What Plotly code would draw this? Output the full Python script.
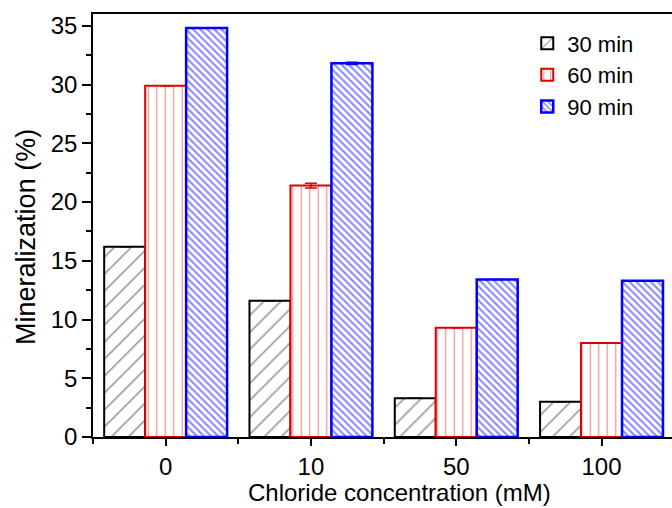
import plotly.graph_objects as go

categories = ["0", "10", "50", "100"]
series_names = ["30 min", "60 min", "90 min"]
vals_30 = [16.2, 11.6, 3.3, 3.0]
vals_60 = [29.9, 21.4, 9.3, 8.0]
vals_90 = [34.8, 31.8, 13.4, 13.3]
err_30 = [None, None, None, None]
err_60 = [None, 0.2, None, None]
err_90 = [None, 0.1, None, None]
y_ticks = [0, 5, 10, 15, 20, 25, 30, 35]
x_title = "Chloride concentration (mM)"
y_title = "Mineralization (%)"

xpos = list(range(len(categories)))
FONT = "Liberation Sans, Arial, sans-serif"

styles = [
    dict(line="#000000", fg="#222222", shape="/", size=12, sol=0.13, lw=2),
    dict(line="#e00000", fg="#e02828", shape="|", size=8.5, sol=0.15, lw=2),
    dict(line="#0000ff", fg="#1a1aff", shape="\\", size=5, sol=0.42, lw=2.5),
]
data = [vals_30, vals_60, vals_90]
errs = [err_30, err_60, err_90]

fig = go.Figure()
for name, v, e, s in zip(series_names, data, errs, styles):
    fig.add_trace(go.Bar(
        x=xpos, y=v, name=name,
        marker=dict(color="white",
                    line=dict(color=s["line"], width=s["lw"]),
                    pattern=dict(shape=s["shape"], fgcolor=s["fg"], bgcolor="white",
                                 size=s["size"], solidity=s["sol"], fillmode="overlay")),
        error_y=dict(type="data", array=e, visible=True, color=s["line"], thickness=1.5, width=6),
    ))

fig.update_layout(
    width=672, height=508,
    margin=dict(l=93, r=0, t=14, b=71),
    plot_bgcolor="white", paper_bgcolor="white",
    barmode="group", bargap=0.154, bargroupgap=0,
    font=dict(family=FONT, size=24, color="black"),
    showlegend=True,
    legend=dict(x=0.75, y=0.98, xanchor="left", yanchor="top",
                font=dict(size=22, family=FONT), bgcolor="rgba(0,0,0,0)",
                tracegroupgap=0, itemwidth=30),
    xaxis=dict(range=[-0.5, 3.485], tickmode="array", tickvals=xpos, ticktext=categories,
               ticks="outside", ticklen=7, tickwidth=1.5, tickcolor="black",
               showline=True, linecolor="black", linewidth=1.5, mirror=True,
               showgrid=False, zeroline=False,
               minor=dict(tickmode="array", tickvals=[-0.5, 0.5, 1.5, 2.5, 3.5],
                          ticks="outside", ticklen=5, tickwidth=1.5, tickcolor="black"),
               tickfont=dict(size=24, family=FONT)),
    yaxis=dict(range=[0, 36], tickmode="array", tickvals=y_ticks,
               ticks="outside", ticklen=9, tickwidth=1.5, tickcolor="black",
               showline=True, linecolor="black", linewidth=1.5, mirror=False,
               showgrid=False, zeroline=False,
               minor=dict(dtick=2.5, ticks="outside", ticklen=5, tickwidth=1.5, tickcolor="black"),
               tickfont=dict(size=24, family=FONT)),
    annotations=[
        dict(text=x_title, xref="paper", yref="paper", x=0.5285, y=-0.131,
             xanchor="center", yanchor="middle", showarrow=False,
             font=dict(size=24, family=FONT)),
        dict(text=y_title, xref="paper", yref="paper", x=-0.1157, y=0.473,
             xanchor="center", yanchor="middle", showarrow=False, textangle=-90,
             font=dict(size=27, family=FONT)),
    ],
)

fig.write_html("out.html")
